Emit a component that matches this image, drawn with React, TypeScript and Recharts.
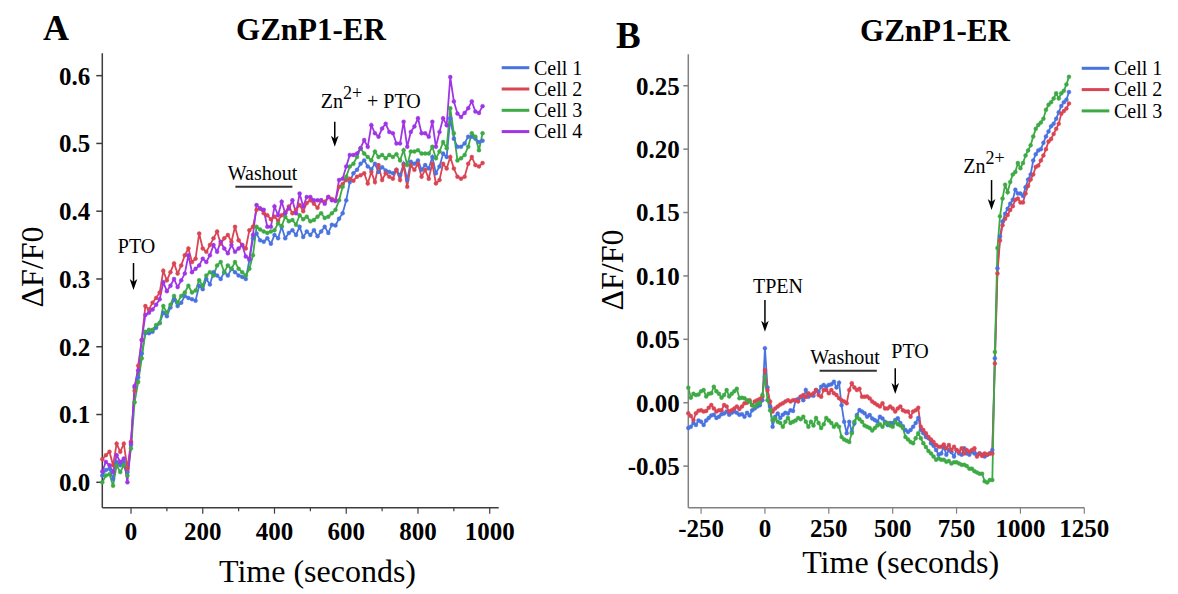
import React from 'react';
import { LineChart, Line, XAxis, YAxis, ReferenceLine } from 'recharts';

const SERIF = '"Liberation Serif", "Times New Roman", Times, serif';

// ---------------- Panel A data ----------------
const timeA = [
  -80, -70, -60, -50, -40, -30, -20, -10,
  0, 10, 20, 30, 40, 50, 60, 70, 80, 90,
  100, 110, 120, 130, 140, 150, 160, 170, 180, 190,
  200, 210, 220, 230, 240, 250, 260, 270, 280, 290,
  300, 310, 320, 330, 340, 350, 360, 370, 380, 390,
  400, 410, 420, 430, 440, 450, 460, 470, 480, 490,
  500, 510, 520, 530, 540, 550, 560, 570, 580, 590,
  600, 610, 620, 630, 640, 650, 660, 670, 680, 690,
  700, 710, 720, 730, 740, 750, 760, 770, 780, 790,
  800, 810, 820, 830, 840, 850, 860, 870, 880, 890,
  900, 910, 920, 930, 940, 950, 960, 970, 980,
];

const cell1A = [
  0.010, 0.018, 0.020, 0.005, 0.030, 0.025, 0.030, 0.015,
  0.055, 0.140, 0.155, 0.190, 0.220, 0.220, 0.222, 0.228, 0.235, 0.250,
  0.245, 0.258, 0.270, 0.260, 0.265, 0.275, 0.272, 0.270, 0.268, 0.290,
  0.285, 0.300, 0.292, 0.310, 0.305, 0.300, 0.310, 0.305, 0.315, 0.310,
  0.305, 0.303, 0.300, 0.328, 0.360, 0.367, 0.357, 0.355, 0.360, 0.352,
  0.365, 0.360, 0.377, 0.360, 0.368, 0.372, 0.365, 0.377, 0.362, 0.370,
  0.365, 0.372, 0.363, 0.370, 0.377, 0.368, 0.380, 0.379, 0.389, 0.397,
  0.416, 0.443, 0.456, 0.461, 0.470, 0.475, 0.466, 0.462, 0.470, 0.458,
  0.465, 0.460, 0.458, 0.456, 0.461, 0.453, 0.470, 0.446, 0.473, 0.470,
  0.475, 0.461, 0.468, 0.463, 0.480, 0.456, 0.466, 0.485, 0.480, 0.537,
  0.507, 0.495, 0.495, 0.500, 0.510, 0.510, 0.507, 0.502, 0.504,
];

const cell2A = [
  0.034, 0.040, 0.045, 0.025, 0.057, 0.045, 0.057, 0.020,
  0.060, 0.135, 0.172, 0.210, 0.260, 0.255, 0.265, 0.272, 0.280, 0.312,
  0.298, 0.310, 0.323, 0.308, 0.320, 0.335, 0.345, 0.325, 0.330, 0.367,
  0.345, 0.340, 0.350, 0.360, 0.370, 0.352, 0.360, 0.365, 0.355, 0.377,
  0.357, 0.350, 0.345, 0.372, 0.377, 0.402, 0.404, 0.397, 0.394, 0.388,
  0.392, 0.386, 0.394, 0.398, 0.407, 0.397, 0.402, 0.409, 0.400, 0.412,
  0.416, 0.411, 0.405, 0.416, 0.414, 0.421, 0.418, 0.416, 0.436, 0.440,
  0.446, 0.448, 0.445, 0.451, 0.453, 0.456, 0.441, 0.458, 0.443, 0.468,
  0.446, 0.456, 0.451, 0.448, 0.461, 0.446, 0.468, 0.436, 0.468, 0.461,
  0.470, 0.451, 0.461, 0.448, 0.470, 0.441, 0.446, 0.470, 0.463, 0.480,
  0.463, 0.451, 0.448, 0.451, 0.470, 0.480, 0.468, 0.466, 0.471,
];

const cell3A = [
  0.000, 0.010, 0.012, -0.005, 0.025, 0.015, 0.025, 0.010,
  0.050, 0.118, 0.148, 0.183, 0.222, 0.225, 0.225, 0.232, 0.235, 0.260,
  0.250, 0.262, 0.275, 0.265, 0.275, 0.280, 0.290, 0.280, 0.283, 0.298,
  0.290, 0.305, 0.310, 0.305, 0.320, 0.325, 0.310, 0.320, 0.315, 0.325,
  0.315, 0.310, 0.305, 0.315, 0.335, 0.377, 0.373, 0.370, 0.368, 0.370,
  0.372, 0.382, 0.378, 0.392, 0.385, 0.387, 0.380, 0.394, 0.388, 0.392,
  0.385, 0.387, 0.392, 0.397, 0.390, 0.392, 0.397, 0.402, 0.416, 0.436,
  0.451, 0.466, 0.470, 0.480, 0.493, 0.485, 0.480, 0.475, 0.488, 0.480,
  0.483, 0.478, 0.483, 0.480, 0.484, 0.475, 0.490, 0.468, 0.488, 0.488,
  0.490, 0.485, 0.485, 0.485, 0.495, 0.478, 0.488, 0.502, 0.493, 0.552,
  0.515, 0.475, 0.478, 0.483, 0.495, 0.515, 0.510, 0.490, 0.515,
];

const cell4A = [
  0.016, 0.030, 0.025, 0.015, 0.040, 0.030, 0.035, 0.000,
  0.058, 0.142, 0.165, 0.210, 0.247, 0.250, 0.255, 0.262, 0.270, 0.295,
  0.282, 0.290, 0.300, 0.288, 0.298, 0.308, 0.335, 0.310, 0.315, 0.320,
  0.330, 0.325, 0.335, 0.350, 0.340, 0.355, 0.345, 0.338, 0.350, 0.340,
  0.345, 0.350, 0.333, 0.330, 0.365, 0.409, 0.404, 0.402, 0.377, 0.377,
  0.407, 0.394, 0.414, 0.397, 0.404, 0.416, 0.397, 0.426, 0.407, 0.421,
  0.421, 0.416, 0.416, 0.416, 0.411, 0.421, 0.416, 0.415, 0.446, 0.448,
  0.466, 0.483, 0.483, 0.485, 0.493, 0.505, 0.495, 0.527, 0.515, 0.510,
  0.522, 0.529, 0.517, 0.515, 0.500, 0.500, 0.532, 0.495, 0.517, 0.525,
  0.537, 0.515, 0.515, 0.510, 0.532, 0.495, 0.517, 0.537, 0.527, 0.598,
  0.562, 0.544, 0.539, 0.545, 0.552, 0.562, 0.547, 0.545, 0.555,
];

// ---------------- Panel B data ----------------
const timeB = [
  -300, -290, -280, -270, -260, -250, -240, -230, -220, -210,
  -200, -190, -180, -170, -160, -150, -140, -130, -120, -110,
  -100, -90, -80, -70, -60, -50, -40, -30, -20, -10,
  0, 10, 20, 30, 40, 50, 60, 70, 80, 90,
  100, 110, 120, 130, 140, 150, 160, 170, 180, 190,
  200, 210, 220, 230, 240, 250, 260, 270, 280, 290,
  300, 310, 320, 330, 340, 350, 360, 370, 380, 390,
  400, 410, 420, 430, 440, 450, 460, 470, 480, 490,
  500, 510, 520, 530, 540, 550, 560, 570, 580, 590,
  600, 610, 620, 630, 640, 650, 660, 670, 680, 690,
  700, 710, 720, 730, 740, 750, 760, 770, 780, 790,
  800, 810, 820, 830, 840, 850, 860, 870, 880, 890,
  900, 910, 920, 930, 940, 950, 960, 970, 980, 990,
  1000, 1010, 1020, 1030, 1040, 1050, 1060, 1070, 1080, 1090,
  1100, 1110, 1120, 1130, 1140, 1150, 1160, 1170, 1180, 1190,
];

const cell1B = [
  -0.020, -0.019, -0.016, -0.0175, -0.014, -0.015, -0.0175, -0.014, -0.012, -0.010,
  -0.0095, -0.012, -0.011, -0.009, -0.0085, -0.007, -0.0095, -0.008, -0.007, -0.008,
  -0.0095, -0.009, -0.011, -0.008, -0.010, -0.006, -0.0045, -0.003, -0.002, 0.002,
  0.043, 0.012, -0.003, -0.019, -0.011, -0.0085, -0.012, -0.0095, -0.008, -0.0085,
  -0.006, -0.0065, 0.002, 0.003, 0.0047, 0.002, 0.010, 0.0047, 0.006, 0.0055,
  0.010, 0.0087, 0.0126, 0.014, 0.0125, 0.014, 0.0145, 0.0166, 0.012, 0.0158,
  -0.002, -0.015, -0.024, -0.015, -0.023, -0.0163, -0.0097, -0.0058, -0.007, -0.0084,
  -0.011, -0.0097, -0.0125, -0.0137, -0.015, -0.011, -0.0125, -0.015, -0.0176, -0.016,
  -0.016, -0.0137, -0.0123, -0.016, -0.0185, -0.0215, -0.023, -0.0215, -0.019, -0.016,
  -0.012, -0.0215, -0.024, -0.027, -0.028, -0.032, -0.034, -0.0373, -0.041, -0.040,
  -0.0347, -0.041, -0.0373, -0.039, -0.0425, -0.0373, -0.040, -0.041, -0.036, -0.040,
  -0.041, -0.0386, -0.040, -0.041, -0.040, -0.041, -0.0425, -0.041, -0.040, -0.0373,
  0.035, 0.106, 0.131, 0.143, 0.149, 0.153, 0.157, 0.160, 0.168, 0.165,
  0.165, 0.163, 0.170, 0.176, 0.180, 0.191, 0.196, 0.199, 0.200, 0.205,
  0.210, 0.214, 0.218, 0.220, 0.224, 0.229, 0.234, 0.237, 0.239, 0.245,
];

const cell2B = [
  -0.0084, -0.0105, -0.0137, -0.0084, -0.0063, -0.006, -0.007, -0.0065, -0.004, -0.0018,
  -0.0045, -0.007, -0.006, -0.006, -0.0018, -0.003, -0.007, -0.006, -0.0045, -0.003,
  -0.005, -0.003, -0.0005, 0.000, 0.002, -0.002, 0.001, 0.002, 0.003, 0.0047,
  0.0258, 0.010, 0.001, -0.007, -0.0045, -0.003, -0.0015, -0.0005, 0.001, 0.002,
  0.001, 0.002, 0.002, 0.001, 0.0047, 0.006, 0.0045, 0.0074, 0.006, 0.0074,
  0.010, 0.006, 0.0047, 0.010, 0.010, 0.0074, 0.010, 0.0074, 0.006, 0.0035,
  0.002, 0.001, -0.0005, 0.010, 0.0153, 0.012, 0.010, 0.011, 0.0047, 0.0047,
  0.005, 0.0034, 0.001, -0.0005, -0.0018, -0.003, -0.0005, -0.0045, -0.0045, -0.003,
  -0.0045, -0.007, -0.0045, -0.003, -0.006, -0.007, -0.007, -0.011, -0.007, -0.006,
  -0.004, -0.019, -0.0215, -0.024, -0.027, -0.029, -0.031, -0.0334, -0.0347, -0.0347,
  -0.033, -0.036, -0.0334, -0.0373, -0.0347, -0.0373, -0.0386, -0.036, -0.040, -0.0373,
  -0.0386, -0.0373, -0.036, -0.0425, -0.040, -0.042, -0.040, -0.041, -0.040, -0.040,
  0.031, 0.102, 0.128, 0.140, 0.145, 0.148, 0.152, 0.155, 0.160, 0.161,
  0.158, 0.158, 0.165, 0.171, 0.176, 0.180, 0.186, 0.187, 0.191, 0.195,
  0.200, 0.206, 0.208, 0.212, 0.216, 0.220, 0.228, 0.230, 0.232, 0.236,
];

const cell3B = [
  0.0118, 0.004, 0.007, 0.006, 0.0065, 0.009, 0.010, 0.005, 0.007, 0.0075,
  0.0126, 0.009, 0.007, 0.004, 0.006, 0.010, 0.005, 0.007, 0.009, 0.011,
  0.0035, 0.004, 0.0035, 0.002, 0.001, -0.002, -0.003, -0.001, 0.000, 0.006,
  0.0205, 0.002, -0.006, -0.014, -0.0125, -0.015, -0.016, -0.019, -0.015, -0.012,
  -0.016, -0.015, -0.014, -0.012, -0.013, -0.011, -0.015, -0.019, -0.015, -0.018,
  -0.012, -0.016, -0.020, -0.017, -0.012, -0.014, -0.016, -0.019, -0.017, -0.019,
  -0.027, -0.029, -0.030, -0.031, -0.024, -0.015, -0.011, -0.013, -0.015, -0.018,
  -0.019, -0.020, -0.022, -0.020, -0.018, -0.017, -0.019, -0.016, -0.016, -0.018,
  -0.019, -0.015, -0.017, -0.018, -0.020, -0.027, -0.029, -0.031, -0.032, -0.028,
  -0.024, -0.028, -0.032, -0.035, -0.038, -0.040, -0.0425, -0.045, -0.044, -0.045,
  -0.045, -0.0465, -0.046, -0.048, -0.047, -0.047, -0.048, -0.049, -0.049, -0.050,
  -0.052, -0.052, -0.054, -0.055, -0.056, -0.056, -0.062, -0.063, -0.061, -0.061,
  0.040, 0.122, 0.147, 0.161, 0.172, 0.166, 0.174, 0.180, 0.182, 0.189,
  0.185, 0.189, 0.195, 0.199, 0.203, 0.210, 0.216, 0.219, 0.221, 0.224,
  0.231, 0.235, 0.237, 0.240, 0.244, 0.240, 0.244, 0.246, 0.251, 0.257,
];

// ---------------- Axes / labels ----------------
const cellNames = ['Cell 1', 'Cell 2', 'Cell 3', 'Cell 4'];
const cellColors = ['#4873E0', '#DA4553', '#3DAA45', '#A035E6'];

const xTicksA = [0, 100, 200, 300, 400, 500, 600, 700, 800, 900, 1000];
const xLabelTicksA = [0, 200, 400, 600, 800, 1000];
const yTicksA = [0, 0.1, 0.2, 0.3, 0.4, 0.5, 0.6];
const xTicksB = [-250, 0, 250, 500, 750, 1000, 1250];
const yTicksB = [-0.05, 0, 0.05, 0.1, 0.15, 0.2, 0.25];

const dataA = timeA.map((t, i) => ({ t, c1: cell1A[i], c2: cell2A[i], c3: cell3A[i], c4: cell4A[i] }));
const dataB = timeB.map((t, i) => ({ t, c1: cell1B[i], c2: cell2B[i], c3: cell3B[i] }));

const AXIS_A = '#3c3c3c';
const AXIS_B = '#808080';

const arrowShape = (p: any) => {
  const { x1, y1, x2, y2 } = p;
  const head = 11;
  const half = 3.8;
  return (
    <g>
      <line x1={x1} y1={y1} x2={x2} y2={y2 - head + 3} stroke="#000" strokeWidth={1.5} />
      <path
        d={`M${x2 - half},${y2 - head} L${x2},${y2 - head + 3} L${x2 + half},${y2 - head} L${x2},${y2} Z`}
        fill="#000"
      />
    </g>
  );
};

const barShape = (p: any) => {
  const { x1, y1, x2, y2 } = p;
  return <line x1={x1} y1={y1} x2={x2} y2={y2} stroke="#333" strokeWidth={2} />;
};

const XTickA = (props: any) => {
  const { x, y, payload } = props;
  const v = payload.value;
  const major = xLabelTicksA.includes(v);
  return (
    <g>
      <line x1={x} x2={x} y1={y} y2={y + (major ? 6 : 3.5)} stroke={AXIS_A} strokeWidth={1.2} />
      {major && (
        <text x={x} y={y + 32.3} textAnchor="middle" fontFamily={SERIF} fontWeight="bold" fontSize={25} fill="#000">
          {v}
        </text>
      )}
    </g>
  );
};

const XTickB = (props: any) => {
  const { x, y, payload } = props;
  return (
    <g>
      <line x1={x} x2={x} y1={y} y2={y + 6} stroke={AXIS_B} strokeWidth={1.2} />
      <text x={x} y={y + 29} textAnchor="middle" fontFamily={SERIF} fontWeight="bold" fontSize={25} fill="#000">
        {payload.value}
      </text>
    </g>
  );
};

const yTickStyle = { fill: '#000', fontSize: 25, fontWeight: 'bold', fontFamily: SERIF } as any;

function PanelA() {
  return (
    <LineChart width={590} height={594} data={dataA} margin={{ top: 53.3, right: 91.3, bottom: 46.3, left: 42.3 }}>
      <XAxis
        dataKey="t"
        type="number"
        domain={[-80, 1025]}
        ticks={xTicksA}
        interval={0}
        height={40}
        tickSize={0}
        tickMargin={0}
        tickLine={false}
        stroke={AXIS_A}
        strokeWidth={1.5}
        tick={<XTickA />}
      />
      <YAxis
        type="number"
        domain={[-0.0375, 0.633]}
        ticks={yTicksA}
        interval={0}
        width={60}
        tickSize={6}
        tickMargin={6}
        stroke={AXIS_A}
        strokeWidth={1.5}
        tickFormatter={(v: number) => v.toFixed(1)}
        tick={yTickStyle}
      />
      {['c1', 'c2', 'c3', 'c4'].map((k, i) => (
        <Line
          key={k}
          dataKey={k}
          type="linear"
          stroke={cellColors[i]}
          strokeWidth={1.8}
          dot={{ r: 2, fill: cellColors[i], stroke: cellColors[i], strokeWidth: 0.4 }}
          isAnimationActive={false}
        />
      ))}
      <ReferenceLine segment={[{ x: 7, y: 0.3235 }, { x: 7, y: 0.2836 }]} shape={arrowShape} />
      <ReferenceLine segment={[{ x: 568, y: 0.532 }, { x: 568, y: 0.495 }]} shape={arrowShape} />
      <ReferenceLine segment={[{ x: 291, y: 0.436 }, { x: 450, y: 0.436 }]} shape={barShape} />
    </LineChart>
  );
}

function PanelB() {
  return (
    <LineChart width={588} height={594} data={dataB} margin={{ top: 54.3, right: 93.7, bottom: 46.3, left: 38.3 }}>
      <XAxis
        dataKey="t"
        type="number"
        domain={[-300, 1250]}
        ticks={xTicksB}
        interval={0}
        height={40}
        tickSize={0}
        tickMargin={0}
        tickLine={false}
        stroke={AXIS_B}
        strokeWidth={1.5}
        tick={<XTickB />}
      />
      <YAxis
        type="number"
        domain={[-0.0828, 0.2748]}
        ticks={yTicksB}
        interval={0}
        width={60}
        tickSize={5}
        tickMargin={3.5}
        stroke={AXIS_B}
        strokeWidth={1.5}
        tickFormatter={(v: number) => v.toFixed(2)}
        tick={yTickStyle}
      />
      {['c1', 'c2', 'c3'].map((k, i) => (
        <Line
          key={k}
          dataKey={k}
          type="linear"
          stroke={cellColors[i]}
          strokeWidth={1.8}
          dot={{ r: 2, fill: cellColors[i], stroke: cellColors[i], strokeWidth: 0.4 }}
          isAnimationActive={false}
        />
      ))}
      <ReferenceLine segment={[{ x: 0, y: 0.081 }, { x: 0, y: 0.056 }]} shape={arrowShape} />
      <ReferenceLine segment={[{ x: 510, y: 0.0271 }, { x: 510, y: 0.0069 }]} shape={arrowShape} />
      <ReferenceLine segment={[{ x: 887, y: 0.1756 }, { x: 887, y: 0.152 }]} shape={arrowShape} />
      <ReferenceLine segment={[{ x: 214, y: 0.0252 }, { x: 438, y: 0.0252 }]} shape={barShape} />
    </LineChart>
  );
}

function Legend({ x, y, n }: { x: number; y: number; n: number }) {
  return (
    <g>
      {cellNames.slice(0, n).map((name, i) => (
        <g key={name}>
          <line x1={x} x2={x + 27.6} y1={y + i * 21.3} y2={y + i * 21.3} stroke={cellColors[i]} strokeWidth={3} />
          <text x={x + 32.3} y={y + i * 21.3 + 6.8} fontSize={20} fontFamily={SERIF} fill="#000">
            {name}
          </text>
        </g>
      ))}
    </g>
  );
}

export default function App() {
  return (
    <div style={{ position: 'absolute', left: 0, top: 0, width: 1178, height: 594, background: '#fff', overflow: 'hidden' }}>
      <div style={{ position: 'absolute', left: 0, top: 0 }}>
        <PanelA />
      </div>
      <div style={{ position: 'absolute', left: 590, top: 0 }}>
        <PanelB />
      </div>
      <svg
        width={1178}
        height={594}
        style={{ position: 'absolute', left: 0, top: 0, pointerEvents: 'none' }}
        fontFamily={SERIF}
      >
        {/* Panel A texts */}
        <text x={43} y={40} fontSize={36} fontWeight="bold">A</text>
        <text x={311} y={40} fontSize={31} fontWeight="bold" textAnchor="middle">GZnP1-ER</text>
        <text x={317.5} y={581.7} fontSize={32} textAnchor="middle">Time (seconds)</text>
        <text x={0} y={0} fontSize={32} textAnchor="middle" transform="translate(43,267) rotate(-90)">ΔF/F0</text>
        <text x={136.5} y={253.3} fontSize={20} textAnchor="middle">PTO</text>
        <text x={262.5} y={180} fontSize={20} textAnchor="middle">Washout</text>
        <text x={320.7} y={108.3} fontSize={20}>
          Zn<tspan dy={-9} fontSize={18}>2+</tspan>
          <tspan dy={9} fontSize={20}> + PTO</tspan>
        </text>
        <Legend x={501.7} y={67.7} n={4} />

        {/* Panel B texts */}
        <text x={616} y={48} fontSize={37} fontWeight="bold">B</text>
        <text x={935} y={41} fontSize={31} fontWeight="bold" textAnchor="middle">GZnP1-ER</text>
        <text x={900.7} y={573.3} fontSize={32} textAnchor="middle">Time (seconds)</text>
        <text x={0} y={0} fontSize={32} textAnchor="middle" transform="translate(623,270) rotate(-90)">ΔF/F0</text>
        <text x={778} y={293.3} fontSize={20} textAnchor="middle">TPEN</text>
        <text x={845} y={364} fontSize={20} textAnchor="middle">Washout</text>
        <text x={910} y={358.3} fontSize={20} textAnchor="middle">PTO</text>
        <text x={963.3} y={173.3} fontSize={20}>
          Zn<tspan dy={-9} fontSize={18}>2+</tspan>
        </text>
        <Legend x={1081.7} y={68.3} n={3} />
      </svg>
    </div>
  );
}
